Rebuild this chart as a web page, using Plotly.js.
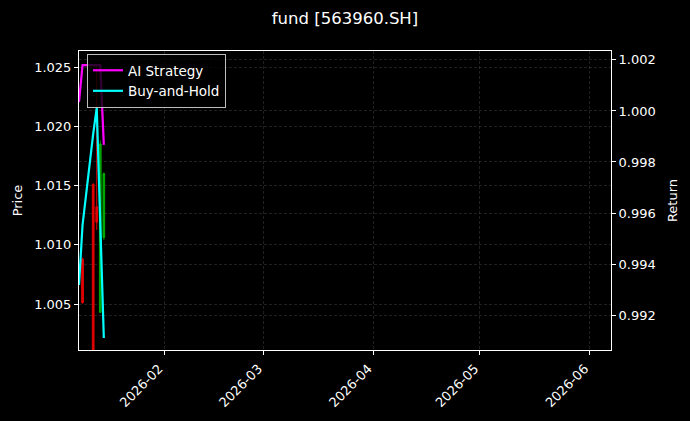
<!DOCTYPE html>
<html>
<head>
<meta charset="utf-8">
<script src="https://cdn.plot.ly/plotly-3.0.1.min.js"></script>
<style>
html,body{margin:0;padding:0;background:#000;}
#chart{width:690px;height:421px;}
</style>
</head>
<body>
<div id="chart"></div>
<script>
// ---- data ----
const lineDates = ['2026-01-08','2026-01-09','2026-01-12','2026-01-13','2026-01-14','2026-01-15'];
const aiStrategy = [1.00035, 1.00180, 1.00180, 1.00180, 1.00180, 0.99867];
const buyAndHold = [0.99318, 0.99553, 0.99910, 1.00012, 0.99558, 0.99110];

const candleDates = ['2026-01-09','2026-01-12','2026-01-13','2026-01-14','2026-01-15'];
const candleOpen  = [1.00880, 1.01510, 1.01320, 1.00430, 1.01060];
const candleHigh  = [1.00890, 1.01520, 1.02520, 1.01880, 1.01610];
const candleLow   = [1.00505, 1.00000, 1.01125, 1.00425, 1.01040];
const candleClose = [1.00510, 1.00050, 1.01190, 1.01850, 1.01600];

const xTickVals = ['2026-02-01','2026-03-01','2026-04-01','2026-05-01','2026-06-01'];
const xTickText = ['2026-02','2026-03','2026-04','2026-05','2026-06'];
const priceTicks = [1.005, 1.010, 1.015, 1.020, 1.025];
const returnTicks = [0.992, 0.994, 0.996, 0.998, 1.000, 1.002];

const FONT = 'DejaVu Sans, sans-serif';
const GRID = 'rgba(140,140,140,0.33)';
const DASH = '3px,2px';

const traces = [
  {
    type: 'candlestick',
    x: candleDates, open: candleOpen, high: candleHigh, low: candleLow, close: candleClose,
    xaxis: 'x', yaxis: 'y',
    increasing: {line: {color: 'rgba(0,190,0,0.8)', width: 1}, fillcolor: 'rgba(0,190,0,0.8)'},
    decreasing: {line: {color: 'rgba(235,0,0,0.95)', width: 1}, fillcolor: 'rgba(235,0,0,0.95)'},
    whiskerwidth: 0,
    showlegend: false,
    hoverinfo: 'skip'
  },
  {
    type: 'scatter', mode: 'lines', name: 'AI Strategy',
    x: lineDates, y: aiStrategy, xaxis: 'x', yaxis: 'y2',
    line: {color: '#ff00ff', width: 2.2}
  },
  {
    type: 'scatter', mode: 'lines', name: 'Buy-and-Hold',
    x: lineDates, y: buyAndHold, xaxis: 'x', yaxis: 'y2',
    line: {color: '#00ffff', width: 2.2}
  }
];

const layout = {
  width: 690, height: 421,
  paper_bgcolor: '#000', plot_bgcolor: '#000',
  margin: {l: 79, r: 79, t: 51, b: 71},
  font: {family: FONT, color: '#ffffff', size: 13},
  title: {
    text: 'fund [563960.SH]',
    font: {family: FONT, size: 16.5, color: '#ffffff'},
    x: 0.5, xanchor: 'center', xref: 'paper',
    y: 0.957, yanchor: 'middle', yref: 'container'
  },
  showlegend: true,
  legend: {
    x: 0.015, y: 0.99, xanchor: 'left', yanchor: 'top',
    bgcolor: 'rgba(0,0,0,0.8)', bordercolor: 'rgba(210,210,210,0.9)', borderwidth: 1,
    font: {family: FONT, size: 13.5, color: '#ffffff'},
    tracegroupgap: 0, itemwidth: 30
  },
  xaxis: {
    type: 'date',
    range: ['2026-01-08', '2026-06-07'],
    tickmode: 'array', tickvals: xTickVals, ticktext: xTickText,
    tickangle: -45, ticklabelshift: -5, ticklabelstandoff: 1,
    ticks: 'outside', ticklen: 4, tickcolor: '#ffffff', tickwidth: 1,
    showline: true, linecolor: '#ffffff', linewidth: 1, mirror: true,
    showgrid: true, gridcolor: GRID, griddash: DASH, gridwidth: 0.7,
    zeroline: false,
    rangeslider: {visible: false},
    tickfont: {family: FONT, size: 13, color: '#ffffff'}
  },
  yaxis: {
    range: [1.00112, 1.02635],
    tickmode: 'array', tickvals: priceTicks, tickformat: '.3f',
    ticks: 'outside', ticklen: 4, tickcolor: '#ffffff', tickwidth: 1,
    showline: true, linecolor: '#ffffff', linewidth: 1,
    showgrid: true, gridcolor: GRID, griddash: DASH, gridwidth: 0.7,
    zeroline: false,
    title: {text: 'Price', font: {family: FONT, size: 13, color: '#ffffff'}, standoff: 8},
    tickfont: {family: FONT, size: 13, color: '#ffffff'}
  },
  yaxis2: {
    overlaying: 'y', side: 'right',
    range: [0.99063, 1.00235],
    tickmode: 'array', tickvals: returnTicks, tickformat: '.3f',
    ticks: 'outside', ticklen: 4, tickcolor: '#ffffff', tickwidth: 1,
    showline: true, linecolor: '#ffffff', linewidth: 1,
    showgrid: true, gridcolor: GRID, griddash: DASH, gridwidth: 0.7,
    zeroline: false,
    title: {text: 'Return', font: {family: FONT, size: 13, color: '#ffffff'}, standoff: 13},
    tickfont: {family: FONT, size: 13, color: '#ffffff'}
  }
};

Plotly.newPlot('chart', traces, layout, {displayModeBar: false, staticPlot: true});
</script>
</body>
</html>
